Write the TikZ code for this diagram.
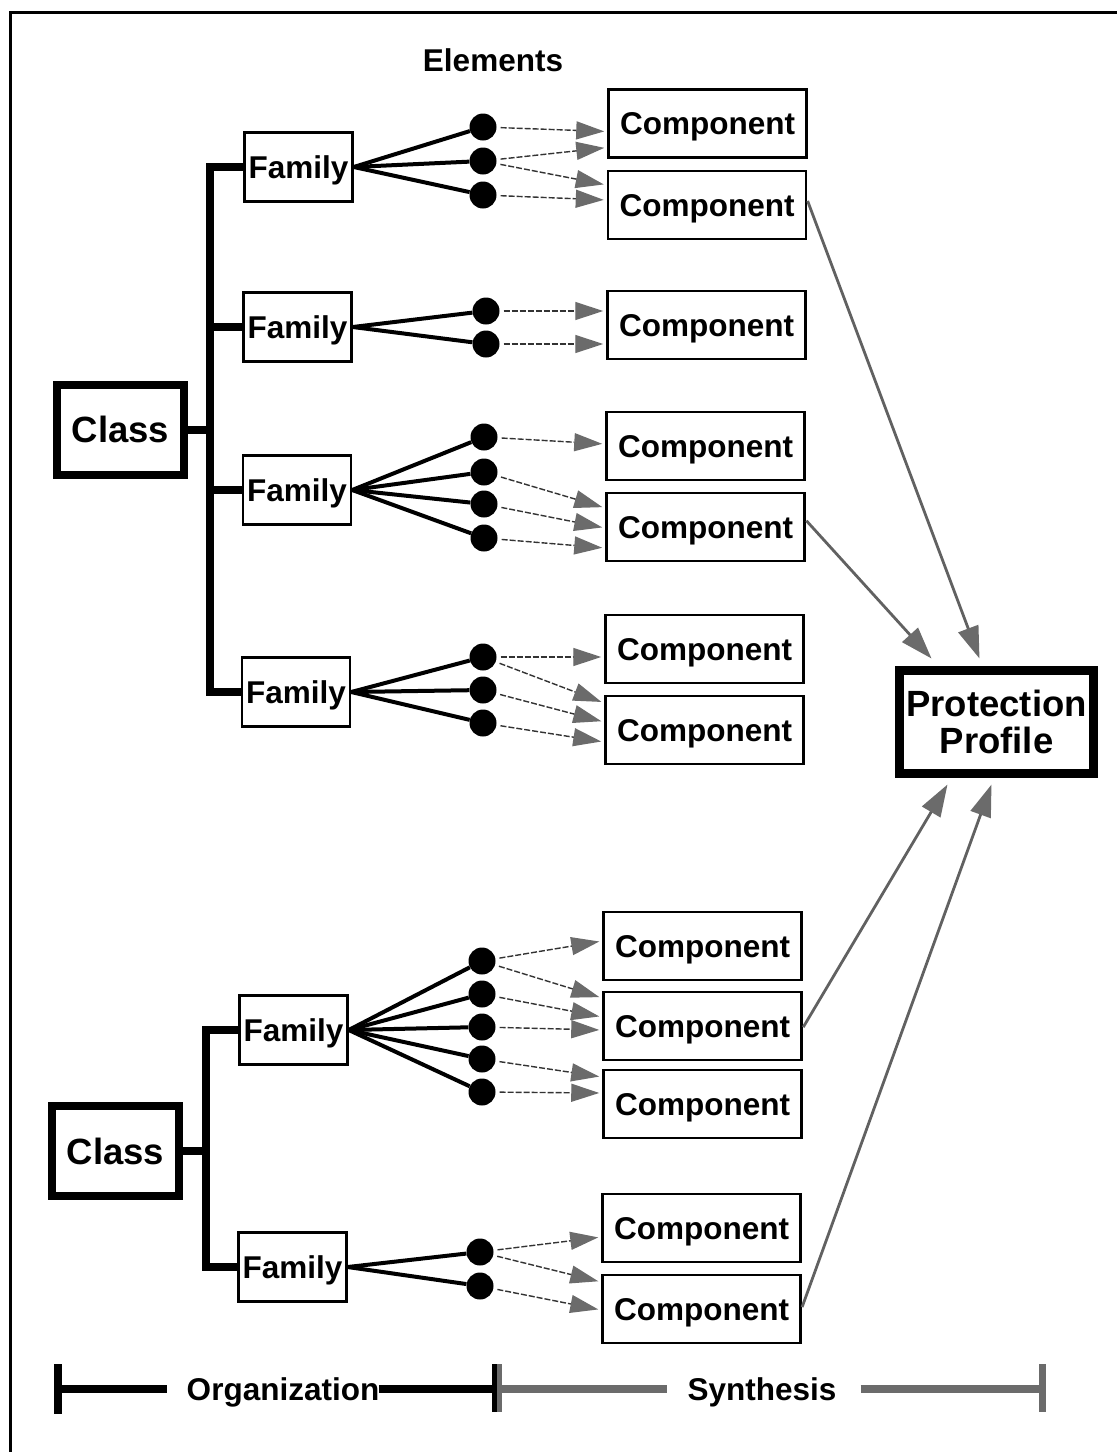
\documentclass[tikz,border=0pt]{standalone}
\usepackage{fontspec}
\setmainfont{Liberation Sans}
\usetikzlibrary{arrows.meta,calc}
\begin{document}
\begin{tikzpicture}[x=1pt,y=-1pt,
  txt/.style={font=\bfseries\fontsize{31.5}{33}\selectfont},
  comp/.style={draw,line width=2.5pt,minimum width=198pt,minimum height=68pt,inner sep=0pt,text height=22pt,text depth=0pt,txt},
  fam/.style={draw,line width=2.5pt,minimum width=108pt,minimum height=69pt,inner sep=0pt,text height=22pt,text depth=0pt,txt},
  cls/.style={draw,line width=8pt,minimum width=127pt,minimum height=90pt,inner sep=0pt,text height=26pt,text depth=0pt,font=\bfseries\fontsize{36.5}{37}\selectfont},
  ppbox/.style={draw,line width=9pt,minimum width=194pt,minimum height=103pt,inner sep=0pt,align=center,font=\bfseries\fontsize{36.5}{37}\selectfont},
  elem/.style={circle,fill=black,minimum size=27pt,inner sep=0pt},
  branch/.style={line width=4pt},
  bus/.style={line width=8pt,line join=miter},
  link/.style={black!80,line width=1.4pt,dash pattern=on 6pt off 2pt,shorten <=4pt,shorten >=3pt,
    -{Triangle[length=28pt,width=18pt,color=black!58]}},
  pplink/.style={black!62,line width=2.8pt,shorten <=1pt,
    -{Triangle[length=32pt,width=21pt,color=black!58]}},
  legtxt/.style={txt,inner sep=0pt,anchor=base},
  orgline/.style={line width=8pt},
  synline/.style={black!58,line width=8pt}
]
\useasboundingbox (0,0) rectangle (1117,1452);
% frame
\draw[line width=3pt] (10,1452) -- (10,12) -- (1117,12);

\node[txt] (elab) at (493,60) {Elements};

% classes
\node[cls] (K1) at (120.5,429.5) {Class};
\node[cls] (K2) at (115.5,1151) {Class};

% families
\node[fam] (F1) at (298.5,167) {Family};
\node[fam] (F2) at (297.5,327) {Family};
\node[fam] (F3) at (297,490) {Family};
\node[fam] (F4) at (296,692) {Family};
\node[fam] (F5) at (293.5,1030) {Family};
\node[fam] (F6) at (292.5,1267) {Family};

% components
\node[comp] (C1) at (707.5,123.5) {Component};
\node[comp] (C2) at (707,205) {Component};
\node[comp] (C3) at (706.5,325) {Component};
\node[comp] (C4) at (705.5,446) {Component};
\node[comp] (C5) at (705.5,527) {Component};
\node[comp] (C6) at (704.5,649) {Component};
\node[comp] (C7) at (704.5,730) {Component};
\node[comp] (C8) at (702.5,946) {Component};
\node[comp] (C9) at (702.5,1026) {Component};
\node[comp] (C10) at (702.5,1104) {Component};
\node[comp] (C11) at (701.5,1228) {Component};
\node[comp] (C12) at (701.5,1309) {Component};

\node[ppbox] (PP) at (996.5,721.5) {Protection\\Profile};

% elements
\node[elem] (d11) at (483,127) {};
\node[elem] (d12) at (483,161) {};
\node[elem] (d13) at (483,195) {};
\node[elem] (d21) at (486,311) {};
\node[elem] (d22) at (486,344) {};
\node[elem] (d31) at (484,437) {};
\node[elem] (d32) at (484,472) {};
\node[elem] (d33) at (484,504) {};
\node[elem] (d34) at (484,538) {};
\node[elem] (d41) at (483,657) {};
\node[elem] (d42) at (483,690) {};
\node[elem] (d43) at (483,723) {};
\node[elem] (d51) at (482,961) {};
\node[elem] (d52) at (482,994) {};
\node[elem] (d53) at (482,1027) {};
\node[elem] (d54) at (482,1059) {};
\node[elem] (d55) at (482,1092) {};
\node[elem] (d61) at (480,1252) {};
\node[elem] (d62) at (480,1286) {};

% buses
\coordinate (b1) at (210,429.5);
\draw[bus] (F1.west) -| (b1) |- (F4.west);
\draw[bus] (K1.east) -- (b1);
\draw[bus] (F2.west) -- (F2.west -| b1);
\draw[bus] (F3.west) -- (F3.west -| b1);
\coordinate (b2) at (206,1151);
\draw[bus] (F5.west) -| (b2) |- (F6.west);
\draw[bus] (K2.east) -- (b2);

% branches
\foreach \d in {d11,d12,d13} \draw[branch] (F1.east) -- (\d);
\foreach \d in {d21,d22} \draw[branch] (F2.east) -- (\d);
\foreach \d in {d31,d32,d33,d34} \draw[branch] (F3.east) -- (\d);
\foreach \d in {d41,d42,d43} \draw[branch] (F4.east) -- (\d);
\foreach \d in {d51,d52,d53,d54,d55} \draw[branch] (F5.east) -- (\d);
\foreach \d in {d61,d62} \draw[branch] (F6.east) -- (\d);

% element -> component links
\draw[link] (d11) -- ($(C1.west)+(0,8)$);
\draw[link] (d12) -- ($(C1.west)+(0,24)$);
\draw[link] (d12) -- ($(C2.west)+(0,-20)$);
\draw[link] (d13) -- ($(C2.west)+(0,-5)$);
\draw[link] (d21) -- ($(C3.west)+(0,-14)$);
\draw[link] (d22) -- ($(C3.west)+(0,19)$);
\draw[link] (d31) -- ($(C4.west)+(0,-2)$);
\draw[link] (d32) -- ($(C5.west)+(0,-19)$);
\draw[link] (d33) -- ($(C5.west)+(0,1)$);
\draw[link] (d34) -- ($(C5.west)+(0,21)$);
\draw[link] (d41) -- ($(C6.west)+(0,8)$);
\draw[link] (d41) -- ($(C7.west)+(0,-27)$);
\draw[link] (d42) -- ($(C7.west)+(0,-8)$);
\draw[link] (d43) -- ($(C7.west)+(0,12)$);
\draw[link] (d51) -- ($(C8.west)+(0,-5)$);
\draw[link] (d51) -- ($(C9.west)+(0,-28)$);
\draw[link] (d52) -- ($(C9.west)+(0,-9)$);
\draw[link] (d53) -- ($(C9.west)+(0,4)$);
\draw[link] (d54) -- ($(C10.west)+(0,-27)$);
\draw[link] (d55) -- ($(C10.west)+(0,-11)$);
\draw[link] (d61) -- ($(C11.west)+(0,9)$);
\draw[link] (d61) -- ($(C12.west)+(0,-27)$);
\draw[link] (d62) -- ($(C12.west)+(0,1)$);

% component -> protection profile
\draw[pplink] ($(C2.east)+(0,-5)$) -- ($(PP.north)+(-17,-7)$);
\draw[pplink] ($(C5.east)+(0,-7)$) -- ($(PP.north)+(-65,-7)$);
\draw[pplink] ($(C9.east)+(0,2)$) -- ($(PP.south)+(-49,7)$);
\draw[pplink] ($(C12.east)+(0,-1)$) -- ($(PP.south)+(-5,7)$);

% legend
\coordinate (L0) at (58,1389);
\coordinate (Lm) at (496,1389);
\coordinate (L1) at (1042,1389);
\node[legtxt] (org) at (283,1400) {Organization};
\node[legtxt] (syn) at (762,1400) {Synthesis};
\draw[orgline] (L0) -- ($(org.west |- L0)+(-20,0)$);
\draw[orgline] (org.east |- L0) -- (Lm);
\draw[synline] ($(Lm)+(4,0)$) -- ($(syn.west |- L0)+(-20,0)$);
\draw[synline] ($(syn.east |- L0)+(24,0)$) -- (L1);
\draw[line width=8pt] ($(L0)+(0,-25)$) -- ($(L0)+(0,25)$);
\draw[line width=5pt] ($(Lm)+(-2,-25)$) -- ($(Lm)+(-2,23)$);
\draw[black!58,line width=5pt] ($(Lm)+(3,-25)$) -- ($(Lm)+(3,23)$);
\draw[black!58,line width=7pt] ($(L1)+(0,-25)$) -- ($(L1)+(0,23)$);
\end{tikzpicture}
\end{document}
